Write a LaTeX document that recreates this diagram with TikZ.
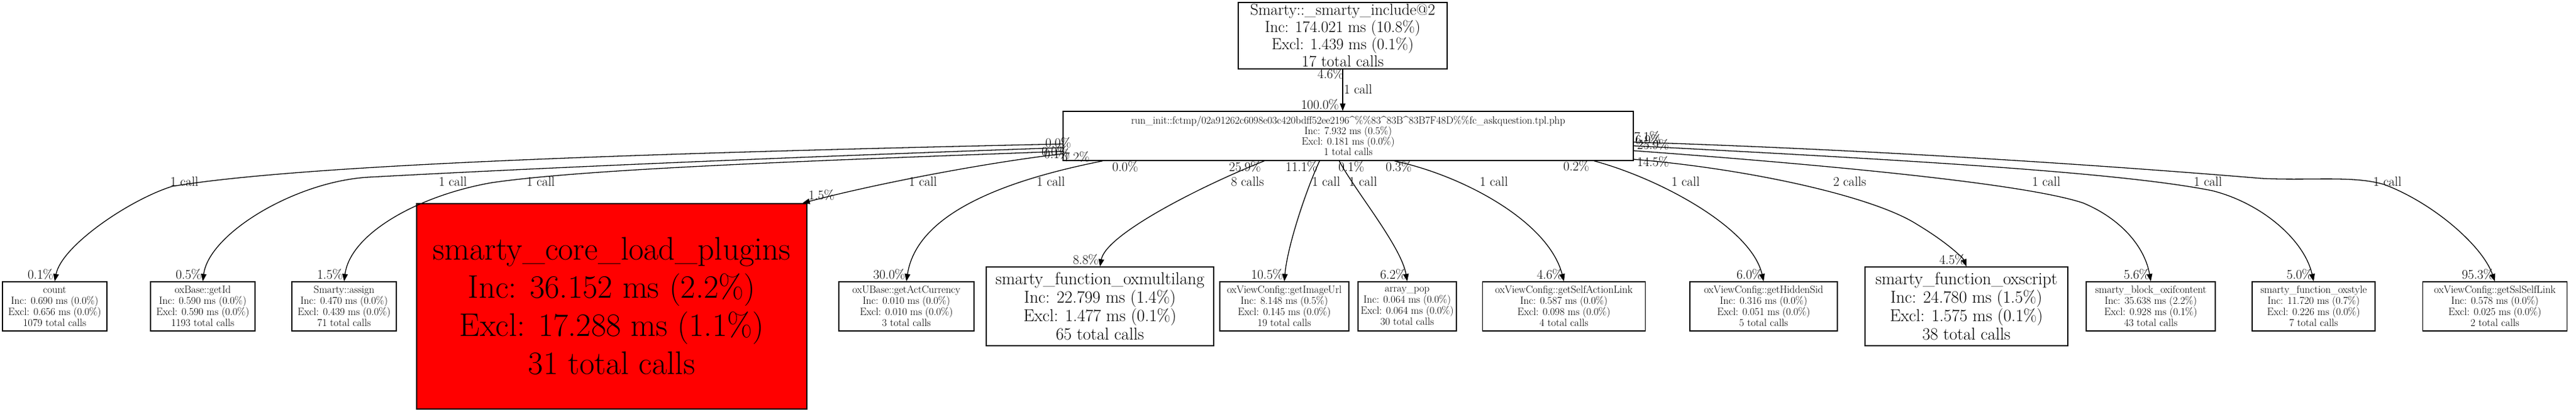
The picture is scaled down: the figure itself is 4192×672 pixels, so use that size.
\documentclass[tikz,border=0pt]{standalone}
\usepackage{fontspec}
\usetikzlibrary{arrows.meta}
\begin{document}
\begin{tikzpicture}[x=1pt,y=-1pt,
 box/.style={draw=black, line width=1.4pt, align=center, inner sep=0pt},
 sm/.style={box, font=\fontsize{17}{18}\selectfont, minimum height=80pt},
 md/.style={box, font=\fontsize{28}{30}\selectfont, minimum height=128pt},
 lbl/.style={font=\fontsize{21.5}{22}\selectfont, inner sep=0pt},
 call/.style={line width=1.3pt, -{Triangle[length=12pt,width=9pt]}},
 hl/.style={lbl, anchor=south east},
]
\useasboundingbox (0,0) rectangle (4192,672);
% nodes
\node[box, font=\fontsize{26}{28}\selectfont, minimum width=340pt, minimum height=108pt] (top) at (2185,58)
 {Smarty::\_smarty\_include@2\\Inc: 174.021 ms (10.8\%)\\Excl: 1.439 ms (0.1\%)\\17 total calls};
\node[box, font=\fontsize{17}{17}\selectfont, minimum width=928pt, minimum height=80pt] (run) at (2194,221)
 {run\_init::fctmp/02a91262c6098e03c420bdff52ee2196\textasciicircum\%\%83\textasciicircum 83B\textasciicircum 83B7F48D\%\%fc\_askquestion.tpl.php\\Inc: 7.932 ms (0.5\%)\\Excl: 0.181 ms (0.0\%)\\1 total calls};
\node[sm, minimum width=170pt] (count) at (89,498) {count\\Inc: 0.690 ms (0.0\%)\\Excl: 0.656 ms (0.0\%)\\1079 total calls};
\node[sm, minimum width=170pt] (getid) at (330,498) {oxBase::getId\\Inc: 0.590 ms (0.0\%)\\Excl: 0.590 ms (0.0\%)\\1193 total calls};
\node[sm, minimum width=170pt] (assign) at (560,498) {Smarty::assign\\Inc: 0.470 ms (0.0\%)\\Excl: 0.439 ms (0.0\%)\\71 total calls};
\node[box, fill=red, font=\fontsize{53}{62}\selectfont, minimum width=635pt, minimum height=334pt] (red) at (995.5,498)
 {smarty\_core\_load\_plugins\\Inc: 36.152 ms (2.2\%)\\Excl: 17.288 ms (1.1\%)\\31 total calls};
\node[sm, minimum width=220pt] (act) at (1475,498) {oxUBase::getActCurrency\\Inc: 0.010 ms (0.0\%)\\Excl: 0.010 ms (0.0\%)\\3 total calls};
\node[md, minimum width=370pt] (mult) at (1790,498) {smarty\_function\_oxmultilang\\Inc: 22.799 ms (1.4\%)\\Excl: 1.477 ms (0.1\%)\\65 total calls};
\node[sm, minimum width=210pt] (img) at (2090,498) {oxViewConfig::getImageUrl\\Inc: 8.148 ms (0.5\%)\\Excl: 0.145 ms (0.0\%)\\19 total calls};
\node[sm, minimum width=160pt] (pop) at (2290,498) {array\_pop\\Inc: 0.064 ms (0.0\%)\\Excl: 0.064 ms (0.0\%)\\30 total calls};
\node[sm, minimum width=265pt] (sal) at (2545,498) {oxViewConfig::getSelfActionLink\\Inc: 0.587 ms (0.0\%)\\Excl: 0.098 ms (0.0\%)\\4 total calls};
\node[sm, minimum width=240pt] (hid) at (2870,498) {oxViewConfig::getHiddenSid\\Inc: 0.316 ms (0.0\%)\\Excl: 0.051 ms (0.0\%)\\5 total calls};
\node[md, minimum width=330pt] (scr) at (3200,498) {smarty\_function\_oxscript\\Inc: 24.780 ms (1.5\%)\\Excl: 1.575 ms (0.1\%)\\38 total calls};
\node[sm, minimum width=210pt] (ifc) at (3500,498) {smarty\_block\_oxifcontent\\Inc: 35.638 ms (2.2\%)\\Excl: 0.928 ms (0.1\%)\\43 total calls};
\node[sm, minimum width=200pt] (sty) at (3765,498) {smarty\_function\_oxstyle\\Inc: 11.720 ms (0.7\%)\\Excl: 0.226 ms (0.0\%)\\7 total calls};
\node[sm, minimum width=235pt] (ssl) at (4060,498) {oxViewConfig::getSslSelfLink\\Inc: 0.578 ms (0.0\%)\\Excl: 0.025 ms (0.0\%)\\2 total calls};
% edges
\draw[call] (top.south) -- (top.south |- run.north);
\draw[call] ([yshift=-13pt]run.west) .. controls (1100,248) and (500,266) .. (280,303) .. controls (210,325) and (100,400) .. (count.north);
\draw[call] ([yshift=-19pt]run.west) .. controls (1100,262) and (750,280) .. (600,288) .. controls (480,295) and (340,380) .. (getid.north);
\draw[call] ([yshift=-25pt]run.west) .. controls (1300,262) and (950,275) .. (800,297) .. controls (680,318) and (570,380) .. (assign.north);
\draw[call] ([yshift=-29pt]run.west) .. controls (1600,265) and (1420,300) .. ([xshift=-8pt]red.north east);
\draw[call] ([xshift=65pt]run.south west) .. controls (1600,300) and (1490,360) .. (act.north);
\draw[call] ([xshift=328pt]run.south west) .. controls (1960,300) and (1800,380) .. (mult.north);
\draw[call] ([xshift=418pt]run.south west) .. controls (2125,310) and (2095,400) .. (img.north);
\draw[call] ([xshift=450pt]run.south west) .. controls (2205,310) and (2280,400) .. (pop.north);
\draw[call] ([xshift=540pt]run.south west) .. controls (2380,285) and (2520,360) .. (sal.north);
\draw[call] ([xshift=865pt]run.south west) .. controls (2700,290) and (2850,370) .. (hid.north);
\draw[call] ([yshift=-38pt]run.east) .. controls (2850,275) and (3050,320) .. (3120,365) .. controls (3170,395) and (3195,420) .. (scr.north);
\draw[call] ([yshift=-24pt]run.east) .. controls (3000,270) and (3300,300) .. (3390,330) .. controls (3450,355) and (3490,400) .. (ifc.north);
\draw[call] ([yshift=-16pt]run.east) .. controls (3100,260) and (3450,280) .. (3600,310) .. controls (3680,330) and (3750,390) .. (sty.north);
\draw[call] ([yshift=-10pt]run.east) .. controls (3100,245) and (3500,275) .. (3680,290) .. controls (3760,294) and (3830,285) .. (3880,300) .. controls (3960,330) and (4040,400) .. (ssl.north);
% edge labels
\node[lbl] (c0) at (2210,145) {1 call};
\node[lbl] (c1) at (300,295) {1 call};
\node[lbl] (c2) at (737,295) {1 call};
\node[lbl] (c3) at (880,295) {1 call};
\node[lbl] (c4) at (1502,295) {1 call};
\node[lbl] (c5) at (1710,295) {1 call};
\node[lbl] (c6) at (2030,295) {8 calls};
\node[lbl] (c7) at (2158,295) {1 call};
\node[lbl] (c8) at (2218,295) {1 call};
\node[lbl] (c9) at (2431,295) {1 call};
\node[lbl] (c10) at (2743,295) {1 call};
\node[lbl] (c11) at (3010,295) {2 calls};
\node[lbl] (c12) at (3330,295) {1 call};
\node[lbl] (c13) at (3593,295) {1 call};
\node[lbl] (c14) at (3885,295) {1 call};
% tail labels
\node[lbl] (t0) at (2165,120) {4.6\%};
\node[lbl] (h0) at (2148,170) {100.0\%};
\node[lbl] (t1) at (1722,232) {0.0\%};
\node[lbl] (t2) at (1716,246) {0.0\%};
\node[lbl] (t3) at (1720,250) {0.1\%};
\node[lbl] (t4) at (1752,255) {7.2\%};
\node[lbl] (t5) at (1831,271) {0.0\%};
\node[lbl] (t6) at (2026,271) {25.9\%};
\node[lbl] (t7) at (2118,271) {11.1\%};
\node[lbl] (t8) at (2199,271) {0.1\%};
\node[lbl] (t9) at (2276,271) {0.3\%};
\node[lbl] (t10) at (2565,270) {0.2\%};
\node[lbl] (t11) at (2690,263) {14.5\%};
\node[lbl] (t12) at (2680,222) {7.1\%};
\node[lbl] (t13) at (2682,227) {6.9\%};
\node[lbl] (t14) at (2690,235) {25.9\%};
% head labels
\node[hl] (l1) at ([xshift=-2pt,yshift=2pt]count.north) {0.1\%};
\node[hl] (l2) at ([xshift=-2pt,yshift=2pt]getid.north) {0.5\%};
\node[hl] (l3) at ([xshift=-2pt,yshift=2pt]assign.north) {1.5\%};
\node[lbl, anchor=south west] (l4) at ([xshift=2pt,yshift=4pt]red.north east) {1.5\%};
\node[hl] (l5) at ([xshift=-2pt,yshift=2pt]act.north) {30.0\%};
\node[hl] (l6) at ([xshift=-2pt,yshift=2pt]mult.north) {8.8\%};
\node[hl] (l7) at ([xshift=-2pt,yshift=2pt]img.north) {10.5\%};
\node[hl] (l8) at ([xshift=-2pt,yshift=2pt]pop.north) {6.2\%};
\node[hl] (l9) at ([xshift=-2pt,yshift=2pt]sal.north) {4.6\%};
\node[hl] (l10) at ([xshift=-2pt,yshift=2pt]hid.north) {6.0\%};
\node[hl] (l11) at ([xshift=-2pt,yshift=2pt]scr.north) {4.5\%};
\node[hl] (l12) at ([xshift=-2pt,yshift=2pt]ifc.north) {5.6\%};
\node[hl] (l13) at ([xshift=-2pt,yshift=2pt]sty.north) {5.0\%};
\node[hl] (l14) at ([xshift=-2pt,yshift=2pt]ssl.north) {95.3\%};
\end{tikzpicture}
\end{document}
